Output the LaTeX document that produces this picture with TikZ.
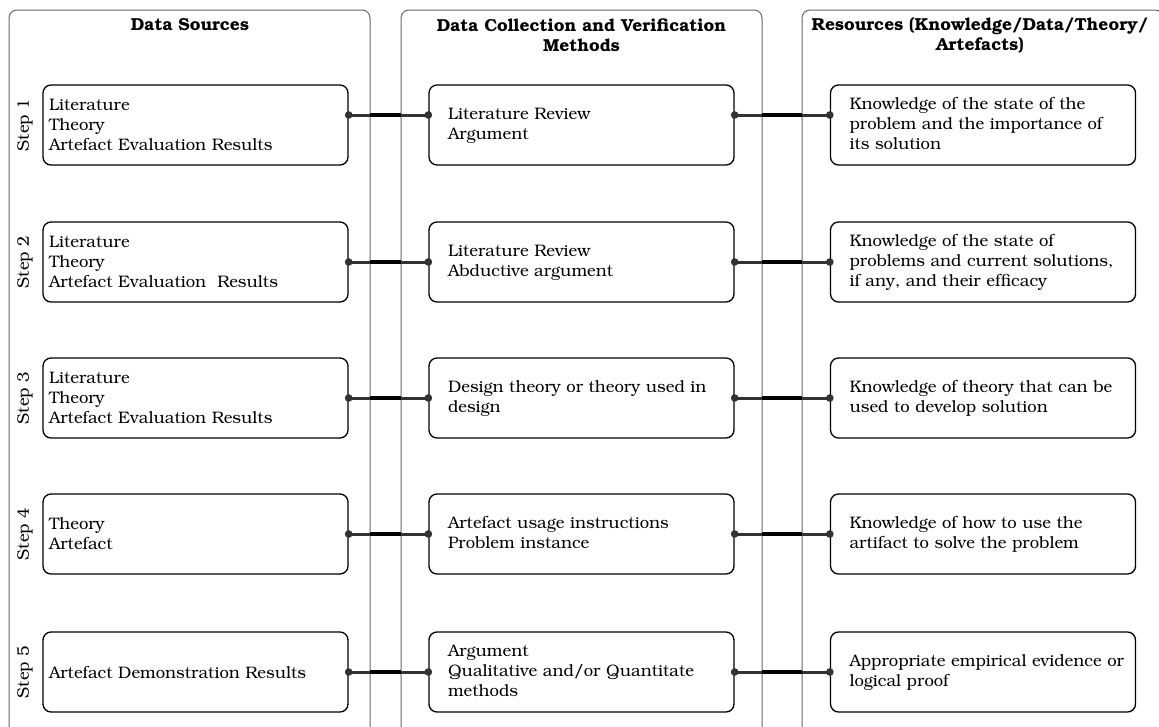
\documentclass[tikz,border=0pt]{standalone}
\usepackage[T1]{fontenc}
\usepackage{bookman}
% left-aligned block of lines, indented from the box edge, never rewrapped
\newcommand\insetlines[1]{\hspace*{7.8pt}\begin{tabular}{@{}l@{}}#1\end{tabular}}
\begin{document}
\begin{tikzpicture}[x=0.6pt,y=-0.6pt,
  frame/.style={draw=black!60, line width=0.6pt, rounded corners=4.8pt},
  item/.style={draw=black, line width=0.8pt, rounded corners=4.8pt,
    minimum height=48pt, align=left, font=\fontsize{10}{12}\selectfont},
  srcbox/.style={item, text width=175.8pt, inner xsep=3.6pt},
  methbox/.style={item, text width=175.8pt, inner xsep=3.6pt},
  head/.style={font=\fontsize{10.4}{12}\selectfont\bfseries, align=center},
  steplabel/.style={rotate=90, font=\fontsize{10}{12}\selectfont},
  wire/.style={draw=black!80, line width=1.8pt},
  gapwire/.style={draw=black, line width=2.1pt},
  dot/.style={fill=black!80}]
\useasboundingbox (0,0) rectangle (1159,726);
\clip (0,0) rectangle (1159,726);

% column frames, open at the bottom
\draw[frame] (9,760) -- (9,10) -- (370,10) -- (370,760);
\draw[frame] (401,760) -- (401,10) -- (762,10) -- (762,760);
\draw[frame] (802,760) -- (802,10) -- (1163,10) -- (1163,760);

% column headings
\node[head] (h1) at (190,25) {Data Sources};
\node[head] (h2) at (581.5,35) {Data Collection and Verification\\Methods};
\node[head] (h3) at (980,35) {Resources (Knowledge/Data/Theory/\\Artefacts)};

% step labels
\node[steplabel] (l1) at (25,125) {Step 1};
\node[steplabel] (l2) at (25,262) {Step 2};
\node[steplabel] (l3) at (25,398) {Step 3};
\node[steplabel] (l4) at (25,534) {Step 4};
\node[steplabel] (l5) at (25,672) {Step 5};

% data sources
\node[srcbox] (s1) at (195.5,125) {Literature\\Theory\\Artefact Evaluation Results};
\node[srcbox] (s2) at (195.5,262) {Literature\\Theory\\Artefact Evaluation\ \ Results};
\node[srcbox] (s3) at (195.5,398) {Literature\\Theory\\Artefact Evaluation Results};
\node[srcbox] (s4) at (195.5,534) {Theory\\Artefact};
\node[srcbox] (s5) at (195.5,672) {Artefact Demonstration Results};

% collection and verification methods
\node[methbox] (m1) at (581.5,125) {\insetlines{Literature Review\\Argument}};
\node[methbox] (m2) at (581.5,262) {\insetlines{Literature Review\\Abductive argument}};
\node[methbox] (m3) at (581.5,398) {\insetlines{Design theory or theory used in\\design}};
\node[methbox] (m4) at (581.5,534) {\insetlines{Artefact usage instructions\\Problem instance}};
\node[methbox] (m5) at (581.5,672) {\insetlines{Argument\\Qualitative and/or Quantitate\\methods}};

% resources
\node[methbox] (r1) at (983,125) {\insetlines{Knowledge of the state of the\\problem and the importance of\\its solution}};
\node[methbox] (r2) at (983,262) {\insetlines{Knowledge of the state of\\problems and current solutions,\\if any, and their efficacy}};
\node[methbox] (r3) at (983,398) {\insetlines{Knowledge of theory that can be\\used to develop solution}};
\node[methbox] (r4) at (983,534) {\insetlines{Knowledge of how to use the\\artifact to solve the problem}};
\node[methbox] (r5) at (983,672) {\insetlines{Appropriate empirical evidence or\\logical proof}};

% connectors: each row links source -> method -> resource
\foreach \i/\dy in {1/6pt,2/0pt,3/0pt,4/0pt,5/0pt}{
  \coordinate (a\i) at ([yshift=\dy]s\i.east);
  \coordinate (b\i) at ([yshift=\dy]m\i.west);
  \coordinate (c\i) at ([yshift=\dy]m\i.east);
  \coordinate (d\i) at ([yshift=\dy]r\i.west);
}
\foreach \i in {1,...,5}{
  \path[wire] (a\i) -- (b\i) (c\i) -- (d\i);
  \path[gapwire] (a\i -| 370,0) -- (a\i -| 401,0) (c\i -| 762,0) -- (c\i -| 802,0);
  \fill[dot] (a\i) circle (2.3pt) (b\i) circle (2.3pt)
             (c\i) circle (2.3pt) (d\i) circle (2.3pt);
}
\end{tikzpicture}
\end{document}
